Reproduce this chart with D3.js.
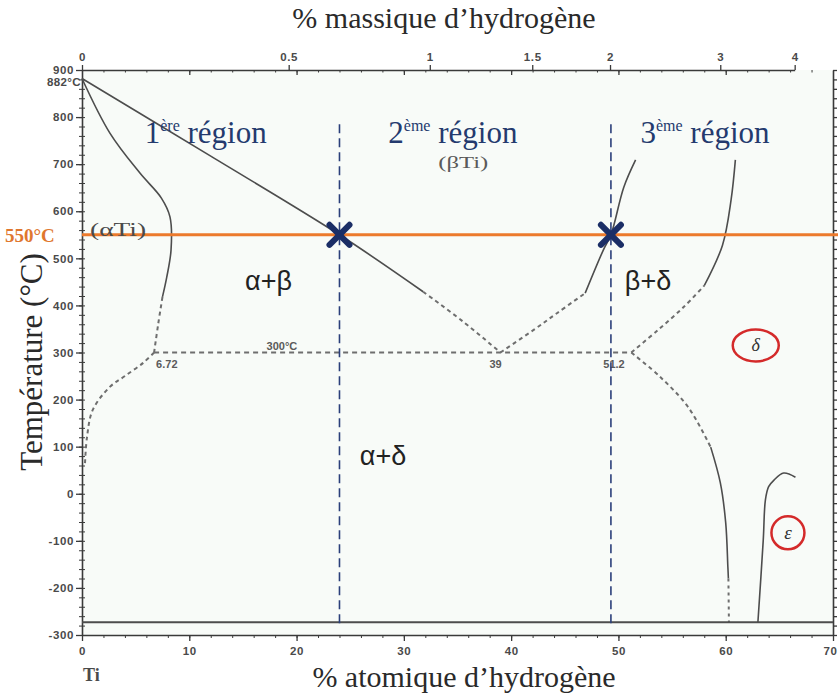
<!DOCTYPE html>
<html>
<head>
<meta charset="utf-8">
<script src="https://cdn.jsdelivr.net/npm/d3@7"></script>
<style>
  html, body { margin: 0; padding: 0; background: #ffffff; }
  svg { display: block; }
</style>
</head>
<body>
<svg id="chart" width="838" height="694"></svg>
<script>
// ---- Ti–H phase diagram data (x: at.% H, y: temperature in °C) ----
const atTicks = [0, 10, 20, 30, 40, 50, 60, 70];
const wtTicks = [0, 0.5, 1, 1.5, 2, 3, 4];
const wtTickLabels = ["0", "0.5", "1", "1.5", "2", "3", "4"];
const tempTicks = [-300, -200, -100, 0, 100, 200, 300, 400, 500, 600, 700, 800, 900];

const alphaTransus = 882;      // allotropic transformation of pure Ti
const eutectoidT = 300;        // eutectoid temperature
const eutectoidComp = [6.72, 39, 51.2];
const absoluteZero = -273;
const workTemp = 550;
const regionBorders = [24, 49.3];

// (αTi)/(α+β) boundary
const alphaUpperSolid = [[0, 882], [2.6, 766], [5.4, 681], [7.4, 628], [8.2, 588], [8.3, 518], [7.9, 460], [7.5, 418]];
const alphaUpperDash = [[7.5, 418], [7.1, 360], [6.72, 300]];
// (αTi) solvus below the eutectoid
const alphaLowerDash = [[6.72, 300], [5.7, 278], [4.0, 250], [2.6, 227], [1.0, 178], [0.47, 121], [0.28, 65]];
// (α+β)/(βTi) boundary
const betaTransusSolid = [[0, 882], [12, 717], [24, 550], [31.8, 429]];
const betaTransusDash = [[31.8, 429], [35.5, 366], [39, 300]];
// (βTi)/(β+δ) boundary
const betaDeltaDash = [[39, 300], [42.1, 348], [44.3, 384], [46.9, 426]];
const betaDeltaSolid = [[46.9, 426], [48.6, 518], [49.3, 550], [50.5, 651], [51.6, 709]];
// (β+δ)/δ boundary
const deltaUpperDash = [[51.2, 300], [53.7, 348], [56.1, 397], [58.0, 442]];
const deltaUpperSolid = [[58.0, 442], [59.7, 528], [60.5, 624], [60.9, 709]];
// (α+δ)/δ boundary
const deltaLowerDash = [[51.2, 300], [53.9, 248], [56.5, 184], [58.6, 99]];
const deltaLowerSolid = [[58.6, 99], [59.5, 23], [60.0, -62], [60.2, -155], [60.25, -180]];
const deltaLowerDot = [[60.25, -180], [60.3, -273]];
// ε phase boundary
const epsilonSolid = [[63.0, -273], [63.5, -98], [63.7, -13], [64.0, 15], [64.5, 29], [65.4, 44], [66.5, 35]];

// ---- layout ----
const svg = d3.select("#chart");
const plotLeft = 82, plotRight = 833, plotTop = 70, plotBottom = 635;

const x = d3.scaleLinear().domain([0, 70]).range([plotLeft, plotRight]);
const y = d3.scaleLinear().domain([-300, 900]).range([plotBottom, plotTop]);

// mass % H -> atomic % H for Ti–H (M_H = 1.008, M_Ti = 47.867)
const atFromWt = w => 100 * (w / 1.008) / (w / 1.008 + (100 - w) / 47.867);
const xTop = d3.scaleLinear().domain(wtTicks).range(wtTicks.map(w => x(atFromWt(w))));

const ink = "#3a3a3a";
const tickFont = "bold 11.5px 'Liberation Sans', Arial, sans-serif";

// plot background
svg.append("rect").attr("x", plotLeft).attr("y", plotTop)
  .attr("width", plotRight - plotLeft).attr("height", plotBottom - plotTop)
  .attr("fill", "#f8fbf8");

// ---- axes ----
function styleAxis(g) {
  g.select(".domain").attr("stroke", ink).attr("stroke-width", 1.6);
  g.selectAll(".tick line").attr("stroke", ink).attr("stroke-width", 1.3);
  g.selectAll(".tick text").attr("fill", "#4a4a4a").style("font", tickFont)
    .style("letter-spacing", "0.6px");
}

// minor ticks
const minorT = d3.range(-300, 901, 20);
const minorX = d3.range(0, 70.01, 2);

const gLeft = svg.append("g").attr("transform", `translate(${plotLeft},0)`)
  .call(d3.axisLeft(y).tickValues(tempTicks).tickSize(6).tickSizeOuter(0)
    .tickFormat(d => d < 0 ? "-" + Math.abs(d) : String(d)))
  .call(styleAxis);
gLeft.selectAll(".tick text").attr("x", -8);

svg.append("g").attr("transform", `translate(${plotLeft},0)`)
  .call(d3.axisLeft(y).tickValues(minorT).tickSize(3).tickSizeOuter(0).tickFormat(""))
  .call(g => g.select(".domain").remove())
  .call(g => g.selectAll("line").attr("stroke", ink).attr("stroke-width", 1).attr("x2", -3).attr("x1", 3));

svg.append("g").attr("transform", `translate(${plotRight},0)`)
  .call(d3.axisRight(y).tickValues(minorT).tickSize(4).tickSizeOuter(0).tickFormat(""))
  .call(styleAxis);

const gBottom = svg.append("g").attr("transform", `translate(0,${plotBottom})`)
  .call(d3.axisBottom(x).tickValues(atTicks).tickSize(6).tickSizeOuter(0).tickFormat(d3.format("d")))
  .call(styleAxis);
gBottom.selectAll(".tick text").attr("y", 12);
// keep the last label inside the page edge
gBottom.selectAll(".tick text").filter(d => d === atTicks[atTicks.length - 1])
  .attr("text-anchor", "end").attr("x", 837 - x(atTicks[atTicks.length - 1]));

svg.append("g").attr("transform", `translate(0,${plotBottom})`)
  .call(d3.axisBottom(x).tickValues(minorX).tickSize(3).tickSizeOuter(0).tickFormat(""))
  .call(g => g.select(".domain").remove())
  .call(g => g.selectAll("line").attr("stroke", ink).attr("stroke-width", 1));

// top axis: mass % ticks upward, atomic % ticks downward
const gTop = svg.append("g").attr("transform", `translate(0,${plotTop})`)
  .call(d3.axisTop(xTop).tickValues(wtTicks).tickSize(5).tickSizeOuter(0)
    .tickFormat((d, i) => wtTickLabels[i]))
  .call(styleAxis);
gTop.selectAll(".tick text").attr("y", -9);

svg.append("g").attr("transform", `translate(0,${plotTop})`)
  .call(d3.axisBottom(x).tickValues(atTicks.slice(1, -1)).tickSize(5).tickFormat(""))
  .call(g => g.select(".domain").remove())
  .call(g => g.selectAll("line").attr("stroke", ink).attr("stroke-width", 1.3));
svg.append("g").attr("transform", `translate(0,${plotTop})`)
  .call(d3.axisBottom(x).tickValues(minorX).tickSize(2.5).tickFormat(""))
  .call(g => g.select(".domain").remove())
  .call(g => g.selectAll("line").attr("stroke", ink).attr("stroke-width", 1));

// special temperature labels on the left axis
svg.append("text").attr("x", plotLeft - 1).attr("y", y(alphaTransus) + 8)
  .attr("text-anchor", "end").attr("fill", "#4a4a4a").style("font", tickFont)
  .style("letter-spacing", "0.4px")
  .text(alphaTransus + "°C");

svg.append("text").attr("x", plotLeft + 1).attr("y", plotBottom + 46)
  .attr("fill", "#4a4a4a").style("font", "bold 18px 'Liberation Serif', serif")
  .text("Ti");

// ---- axis titles ----
const titleFont = "30px 'Liberation Serif', 'Times New Roman', serif";
svg.append("text").attr("x", 444).attr("y", 28)
  .attr("text-anchor", "middle").attr("fill", "#2a2a2a").style("font", titleFont)
  .text("% massique d’hydrogène");
svg.append("text").attr("x", 464).attr("y", 687)
  .attr("text-anchor", "middle").attr("fill", "#2a2a2a").style("font", titleFont)
  .text("% atomique d’hydrogène");
svg.append("text")
  .attr("transform", `translate(42,362) rotate(-90)`)
  .attr("text-anchor", "middle").attr("fill", "#2a2a2a")
  .style("font", "31px 'Liberation Serif', 'Times New Roman', serif")
  .text("Température (°C)");

// ---- phase boundaries ----
const line = d3.line().x(d => x(d[0])).y(d => y(d[1])).curve(d3.curveCatmullRom.alpha(0.5));
const plot = svg.append("g");

function drawSolid(pts) {
  plot.append("path").datum(pts).attr("d", line)
    .attr("fill", "none").attr("stroke", "#4d4d4d").attr("stroke-width", 1.6);
}
function drawDashed(pts, dash) {
  plot.append("path").datum(pts).attr("d", line)
    .attr("fill", "none").attr("stroke", "#6e6e6e").attr("stroke-width", 2)
    .attr("stroke-dasharray", dash || "4,3.5");
}

[alphaUpperSolid, betaTransusSolid, betaDeltaSolid, deltaUpperSolid, deltaLowerSolid, epsilonSolid].forEach(drawSolid);
[alphaUpperDash, alphaLowerDash, betaTransusDash, betaDeltaDash, deltaUpperDash, deltaLowerDash].forEach(p => drawDashed(p));
drawDashed(deltaLowerDot, "3,4");

// eutectoid isotherm
drawDashed([[eutectoidComp[0], eutectoidT], [eutectoidComp[2], eutectoidT]], "5,4");

// absolute zero
plot.append("line").attr("x1", x(0)).attr("x2", x(70))
  .attr("y1", y(absoluteZero)).attr("y2", y(absoluteZero))
  .attr("stroke", "#4d4d4d").attr("stroke-width", 2);

// eutectoid annotations
const smallFont = "bold 11px 'Liberation Sans', Arial, sans-serif";
svg.append("text").attr("x", x(17.2)).attr("y", y(eutectoidT) - 3)
  .attr("fill", "#5a5a5a").style("font", smallFont).text(eutectoidT + "°C");
svg.append("text").attr("x", x(eutectoidComp[0]) + 2).attr("y", y(eutectoidT) + 15)
  .attr("fill", "#5a5a5a").style("font", smallFont).text(String(eutectoidComp[0]));
svg.append("text").attr("x", x(eutectoidComp[1]) - 11).attr("y", y(eutectoidT) + 15)
  .attr("fill", "#5a5a5a").style("font", smallFont).text(String(eutectoidComp[1]));
svg.append("text").attr("x", x(eutectoidComp[2]) - 28).attr("y", y(eutectoidT) + 15)
  .attr("fill", "#5a5a5a").style("font", smallFont).text(String(eutectoidComp[2]));

// ---- working temperature and regions ----
svg.append("line").attr("x1", x(0)).attr("x2", 838)
  .attr("y1", y(workTemp)).attr("y2", y(workTemp))
  .attr("stroke", "#ec7a2c").attr("stroke-width", 3);
svg.append("text").attr("x", 5).attr("y", y(workTemp) + 7)
  .attr("fill", "#e0772e").style("font", "bold 19px 'Liberation Serif', serif")
  .text(workTemp + "°C");

regionBorders.forEach(b => {
  svg.append("line").attr("x1", x(b)).attr("x2", x(b))
    .attr("y1", y(785)).attr("y2", y(-285))
    .attr("stroke", "#2b3f7a").attr("stroke-width", 1.6).attr("stroke-dasharray", "9,5");
});

// crossing points of the boundaries with the 550 °C isotherm
regionBorders.forEach(b => {
  const cx = x(b), cy = y(workTemp), s = 10;
  svg.append("path")
    .attr("d", `M${cx - s},${cy - s}L${cx + s},${cy + s}M${cx - s},${cy + s}L${cx + s},${cy - s}`)
    .attr("stroke", "#1b2e66").attr("stroke-width", 6).attr("stroke-linecap", "round");
});

// region titles
const regionFont = "31px 'Liberation Serif', 'Times New Roman', serif";
const regions = [
  { n: "1", sup: "ère", at: 5.85 },
  { n: "2", sup: "ème", at: 28.55 },
  { n: "3", sup: "ème", at: 52.05 }
];
regions.forEach(r => {
  const t = svg.append("text").attr("x", x(r.at)).attr("y", 143)
    .attr("fill", "#243a6e").style("font", regionFont);
  t.append("tspan").text(r.n);
  t.append("tspan").attr("dy", -12).style("font-size", "16px").text(r.sup);
  t.append("tspan").attr("dy", 12).text(" région");
});

// phase labels
svg.append("text").attr("x", x(0.75)).attr("y", 236).attr("fill", "#4a4a4a")
  .style("font", "19px 'Liberation Serif', serif")
  .attr("textLength", 56).attr("lengthAdjust", "spacingAndGlyphs").text("(αTi)");
svg.append("text").attr("x", x(33.2)).attr("y", 168).attr("fill", "#5a5a5a")
  .style("font", "16px 'Liberation Serif', serif")
  .attr("textLength", 50).attr("lengthAdjust", "spacingAndGlyphs").text("(βTi)");

const phaseSans = "27px 'Liberation Sans', Arial, sans-serif";
svg.append("text").attr("x", x(15.2)).attr("y", 290).attr("fill", "#222")
  .style("font", phaseSans).text("α+β");
svg.append("text").attr("x", x(50.6)).attr("y", 290).attr("fill", "#222")
  .style("font", phaseSans).text("β+δ");
svg.append("text").attr("x", x(25.9)).attr("y", 465).attr("fill", "#222")
  .style("font", phaseSans).text("α+δ");

// single-phase fields, circled
svg.append("ellipse").attr("cx", x(62.8)).attr("cy", y(315)).attr("rx", 23).attr("ry", 16)
  .attr("fill", "none").attr("stroke", "#d42a2a").attr("stroke-width", 2.5);
svg.append("text").attr("x", x(62.8)).attr("y", y(315) + 6).attr("text-anchor", "middle")
  .attr("fill", "#333").style("font", "italic 18px 'Liberation Serif', serif").text("δ");

svg.append("circle").attr("cx", x(65.8)).attr("cy", y(-83)).attr("r", 16.5)
  .attr("fill", "none").attr("stroke", "#d42a2a").attr("stroke-width", 2.5);
svg.append("text").attr("x", x(65.8)).attr("y", y(-83) + 6).attr("text-anchor", "middle")
  .attr("fill", "#333").style("font", "italic 19px 'Liberation Serif', serif").text("ε");
</script>
</body>
</html>
